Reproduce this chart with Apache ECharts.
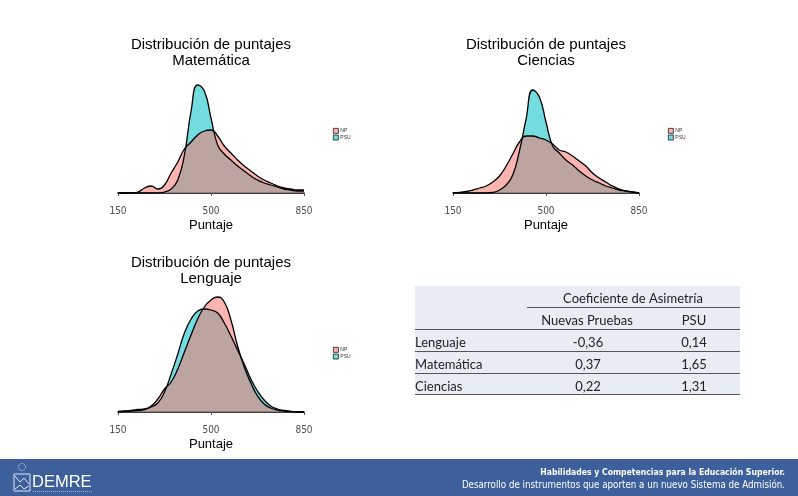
<!DOCTYPE html>
<html><head><meta charset="utf-8">
<script src="https://cdn.jsdelivr.net/npm/echarts@6/dist/echarts.min.js"></script>
<style>html,body{margin:0;padding:0;background:#fff}#c{width:798px;height:496px}</style>
</head><body><div id="c"></div><script>
// ---- data ----
const scoreX = [150,175,200,225,250,275,300,325,350,375,400,425,450,475,500,525,550,575,600,625,650,675,700,725,750,775,800,825,850];
const matNP  = [0,0,0,1,5,7,4,8,20,31,44,51,58,62,63,57,47,40,33,27,22,17,13,10,7,5,4,3,3];
const matPSU = [0,0,0,0,0,0,0,1,4,13,38,82,108,102,75,48,39,33,27,22,17,13,10,8,6,4,3,2,2];
const cieNP  = [0,0.5,1.5,3,5,7,11,17,27,39,51,57,57,55,53,49,43,41,37,32,27,20,15,11,7,4,2,1,0];
const ciePSU = [0,0,0,0,0,0,0.5,3,8,18,42,74,103,96,71,47,40,33,28,22,17,13,10,7,5,3,2,1,0];
const lenNP  = [0.5,1,1.5,2.5,3,6,13,23,30,43,60,77,93,105,112,115,110,92,66,45,29,16,8,4,2,1,0.5,0,0];
const lenPSU = [0,0.5,1,1.5,2.5,5,9,20,38,58,79,93,101,103,102,99,89,76,62,48,33,21,12,6,3,1.5,0.5,0,0];
const tickLabels = [150,500,850];
const subjects = ['Matemática','Ciencias','Lenguaje'];
const seriesNames = ['NP','PSU'];
const tableRows = ['Lenguaje','Matemática','Ciencias'];
const skewNP  = ['-0,36','0,37','0,22'];
const skewPSU = ['0,14','1,65','1,31'];
const tableHeader = 'Coeficiente de Asimetría';
const tableCols = ['Nuevas Pruebas','PSU'];

// ---- layout ----
const panels = [
  {left:118, top:78,  height:115, np:matNP, psu:matPSU, cx:211, ty:37,  lx:333, ly:128},
  {left:453, top:78,  height:115, np:cieNP, psu:ciePSU, cx:546, ty:37,  lx:668, ly:128},
  {left:118, top:292, height:120, np:lenNP, psu:lenPSU, cx:211, ty:255, lx:333, ly:347}
];
const pair = (ys) => scoreX.map((x,i)=>[x, ys[i]]);
const NPc = 'rgba(248,118,109,0.55)';
const PSUc = 'rgba(0,191,196,0.55)';
const grid=[], xAxis=[], yAxis=[], series=[], legend=[], graphic=[];
const lblFont = "'Liberation Sans Narrow','DejaVu Sans Condensed','Liberation Sans',sans-serif";
panels.forEach((p,i)=>{
  grid.push({left:p.left, top:p.top, width:186, height:p.height});
  xAxis.push({type:'value', gridIndex:i, position:'bottom', min:150, max:850, offset:6,
    axisLine:{show:false}, splitLine:{show:false},
    axisTick:{show:true, customValues:tickLabels, length:3, lineStyle:{color:'#555'}},
    axisLabel:{customValues:tickLabels, margin:7, fontSize:10, color:'#4d4d4d', fontFamily:lblFont},
    name:'Puntaje', nameLocation:'middle', nameGap:20,
    nameTextStyle:{fontSize:13, color:'#000', fontFamily:'Liberation Sans'}});
  xAxis.push({type:'value', gridIndex:i, position:'bottom', min:150, max:850, axisLabel:{show:false}, axisTick:{show:false},
    splitLine:{show:false}, axisLine:{show:true, lineStyle:{color:'#000', width:1.5}}});
  yAxis.push({type:'value', gridIndex:i, min:0, max:p.height, show:false});
  series.push({name:'PSU', type:'line', xAxisIndex:2*i, yAxisIndex:i, data:pair(p.psu), smooth:0.5,
    symbol:'none', lineStyle:{color:'#000', width:1.3}, itemStyle:{color:PSUc}, areaStyle:{color:PSUc, opacity:1}});
  series.push({name:'NP', type:'line', xAxisIndex:2*i, yAxisIndex:i, data:pair(p.np), smooth:0.5,
    symbol:'none', lineStyle:{color:'#000', width:1.3}, itemStyle:{color:NPc}, areaStyle:{color:NPc, opacity:1}});
  legend.push({data:seriesNames, left:p.lx, top:p.ly, orient:'vertical', icon:'rect', itemWidth:5, itemHeight:5, itemGap:1,
    itemStyle:{borderColor:'#000', borderWidth:0.7}, textStyle:{fontSize:5, color:'#333', padding:[0,0,0,-3]}, padding:0, selectedMode:false});
  graphic.push({type:'text', x:p.cx, y:p.ty, style:{text:'Distribución de puntajes\n'+subjects[i], align:'center',
    font:"15px 'Liberation Sans'", fill:'#000', lineHeight:16}});
});

// table
const tx0=415, tx1=740;
graphic.push({type:'rect', shape:{x:tx0, y:286, width:tx1-tx0, height:109}, style:{fill:'#E8ECF4'}});
const tfont = "13px Lato";
graphic.push({type:'text', x:633, y:299, style:{text:tableHeader, align:'center', verticalAlign:'middle', font:tfont, fill:'#222'}});
graphic.push({type:'line', shape:{x1:527, y1:307.5, x2:tx1, y2:307.5}, style:{stroke:'#555', lineWidth:1}});
graphic.push({type:'text', x:587, y:321, style:{text:tableCols[0], align:'center', verticalAlign:'middle', font:tfont, fill:'#222'}});
graphic.push({type:'text', x:694, y:321, style:{text:tableCols[1], align:'center', verticalAlign:'middle', font:tfont, fill:'#222'}});
[329.5,351.5,373.5,394.5].forEach(y=>graphic.push({type:'line', shape:{x1:tx0, y1:y, x2:tx1, y2:y}, style:{stroke:'#555', lineWidth:1}}));
tableRows.forEach((r,k)=>{
  const y = 343 + 22*k;
  graphic.push({type:'text', x:tx0, y:y, style:{text:r, align:'left', verticalAlign:'middle', font:tfont, fill:'#222'}});
  graphic.push({type:'text', x:588, y:y, style:{text:skewNP[k], align:'center', verticalAlign:'middle', font:tfont, fill:'#222'}});
  graphic.push({type:'text', x:694, y:y, style:{text:skewPSU[k], align:'center', verticalAlign:'middle', font:tfont, fill:'#222'}});
});

// footer
graphic.push({type:'rect', shape:{x:0, y:459, width:798, height:37}, style:{fill:'#3D5F9B'}});
graphic.push({type:'text', x:785, y:473, style:{text:'Habilidades y Competencias para la Educación Superior.', align:'right', verticalAlign:'middle',
  font:"bold 8.6px 'Liberation Sans Narrow','DejaVu Sans Condensed',Roboto", fill:'#fff'}});
graphic.push({type:'text', x:785, y:485, style:{text:'Desarrollo de instrumentos que aporten a un nuevo Sistema de Admisión.', align:'right', verticalAlign:'middle',
  font:"9.7px 'Liberation Sans Narrow','DejaVu Sans Condensed',Roboto", fill:'#fff'}});
graphic.push({type:'text', x:32, y:482, style:{text:'DEMRE', align:'left', verticalAlign:'middle', font:"16.5px 'Liberation Sans'", fill:'#fff'}});
graphic.push({type:'rect', shape:{x:14, y:474, width:16, height:17}, style:{fill:'none', stroke:'#dfe6f2', lineWidth:1}});
graphic.push({type:'polyline', shape:{points:[[15,476],[20,482],[24,478],[29,484]]}, style:{fill:'none', stroke:'#dfe6f2', lineWidth:1}});
graphic.push({type:'polyline', shape:{points:[[15,489],[20,485],[24,489],[29,486]]}, style:{fill:'none', stroke:'#dfe6f2', lineWidth:1}});
graphic.push({type:'circle', shape:{cx:22, cy:467, r:3.5}, style:{fill:'none', stroke:'#dfe6f2', lineWidth:1, lineDash:[1,1]}});
graphic.push({type:'line', shape:{x1:33, y1:491.5, x2:92, y2:491.5}, style:{stroke:'#9fb2d3', lineWidth:1, lineDash:[1,1]}});

const chart = echarts.init(document.getElementById('c'), null, {renderer:'canvas'});
chart.setOption({animation:false, backgroundColor:'#fff', grid, xAxis, yAxis, series, legend, graphic});
</script></body></html>
